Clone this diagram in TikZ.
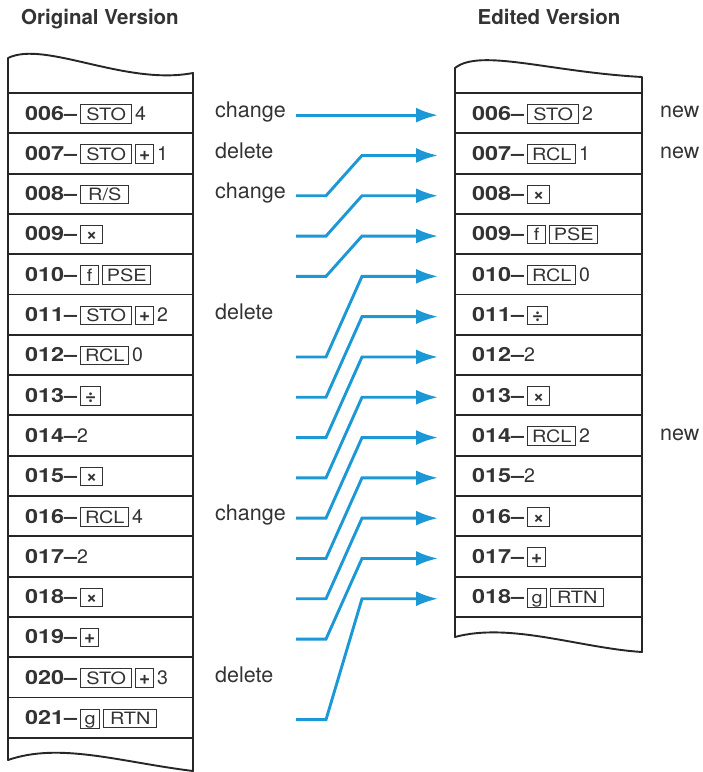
\documentclass[tikz,border=0pt]{standalone}
\usepackage{graphicx}
\usepackage{fontspec}
\setmainfont{TeX Gyre Heros}
\usetikzlibrary{arrows.meta,calc}
\definecolor{ink}{HTML}{333333}
\definecolor{frameink}{HTML}{262626}
\definecolor{flowblue}{RGB}{28,152,214}
\newcommand\rlab[1]{{\fontsize{19.5}{22}\selectfont\bfseries\scalebox{1.2}[1]{#1–}}}
\newcommand\rdig[1]{{\fontsize{19.5}{22}\selectfont #1}}
\newcommand\kbox[2]{{\setlength\fboxsep{0pt}\setlength\fboxrule{1pt}\fbox{\makebox[#1pt]{\rule[-2.5pt]{0pt}{17.5pt}\fontsize{17}{18}\selectfont\scalebox{1.17}[1]{#2}}}}}
\newcommand\kboxs[2]{{\setlength\fboxsep{0pt}\setlength\fboxrule{1pt}\fbox{\makebox[#1pt]{\rule[-2.5pt]{0pt}{17.5pt}\fontsize{19}{18}\selectfont\bfseries #2}}}}
\newcommand\kg{\hspace{3pt}}
\begin{document}
\begin{tikzpicture}[x=1pt,y=-1pt,
  rowtxt/.style={anchor=base west, inner sep=0pt, text=ink},
  note/.style={anchor=mid west, inner sep=0pt, text=ink, font=\fontsize{21.5}{24}\selectfont},
  hdr/.style={anchor=base, inner sep=0pt, text=ink, font=\fontsize{20.5}{24}\selectfont\bfseries},
  frame/.style={draw=frameink, line width=1.9pt, line join=round},
  sep/.style={draw=frameink, line width=1.9pt},
  flow/.style={draw=flowblue, line width=2.9pt, -{Latex[length=22pt,width=15pt]}}]
\fill[white] (0,0) rectangle (703,772);
\useasboundingbox (0,0) rectangle (703,772);
% headers
\node[hdr] (hdrL) at (100,24) {Original Version};
\node[hdr] (hdrR) at (549,24) {Edited Version};
% left listing frame
\draw[frame] (8,58) .. controls (45,40) and (125,86) .. (193,73) -- (193,771)
  .. controls (120,762) and (60,742) .. (8,760) -- cycle;
\foreach \k in {0,...,16} \draw[sep] (8,{93+40.3*\k}) -- (193,{93+40.3*\k});
% right listing frame
\draw[frame] (455,68) .. controls (480,48) and (550,72) .. (642,77) -- (642,652)
  .. controls (580,648) and (510,622) .. (455,637) -- cycle;
\foreach \k in {0,...,13} \draw[sep] (455,{93+40.3*\k}) -- (642,{93+40.3*\k});
% left rows
\node[rowtxt] (L0) at (25,120.0) {\rlab{006}\kg\kbox{50}{STO}\kg\rdig{4}};
\node[rowtxt] (L1) at (25,160.3) {\rlab{007}\kg\kbox{50}{STO}\kg\kboxs{17}{+}\kg\rdig{1}};
\node[rowtxt] (L2) at (25,200.6) {\rlab{008}\kg\kbox{47}{R/S}};
\node[rowtxt] (L3) at (25,240.9) {\rlab{009}\kg\kboxs{21}{×}};
\node[rowtxt] (L4) at (25,281.2) {\rlab{010}\kg\kbox{17}{f}\kg\kbox{47}{PSE}};
\node[rowtxt] (L5) at (25,321.5) {\rlab{011}\kg\kbox{50}{STO}\kg\kboxs{17}{+}\kg\rdig{2}};
\node[rowtxt] (L6) at (25,361.8) {\rlab{012}\kg\kbox{47}{RCL}\kg\rdig{0}};
\node[rowtxt] (L7) at (25,402.1) {\rlab{013}\kg\kboxs{19}{÷}};
\node[rowtxt] (L8) at (25,442.4) {\rlab{014}\rdig{2}};
\node[rowtxt] (L9) at (25,482.7) {\rlab{015}\kg\kboxs{21}{×}};
\node[rowtxt] (L10) at (25,523.0) {\rlab{016}\kg\kbox{47}{RCL}\kg\rdig{4}};
\node[rowtxt] (L11) at (25,563.3) {\rlab{017}\rdig{2}};
\node[rowtxt] (L12) at (25,603.6) {\rlab{018}\kg\kboxs{21}{×}};
\node[rowtxt] (L13) at (25,643.9) {\rlab{019}\kg\kboxs{17}{+}};
\node[rowtxt] (L14) at (25,684.2) {\rlab{020}\kg\kbox{50}{STO}\kg\kboxs{17}{+}\kg\rdig{3}};
\node[rowtxt] (L15) at (25,724.5) {\rlab{021}\kg\kbox{18}{g}\kg\kbox{52}{RTN}};
% right rows
\node[rowtxt] (R0) at (472,120.0) {\rlab{006}\kg\kbox{50}{STO}\kg\rdig{2}};
\node[rowtxt] (R1) at (472,160.3) {\rlab{007}\kg\kbox{47}{RCL}\kg\rdig{1}};
\node[rowtxt] (R2) at (472,200.6) {\rlab{008}\kg\kboxs{21}{×}};
\node[rowtxt] (R3) at (472,240.9) {\rlab{009}\kg\kbox{17}{f}\kg\kbox{47}{PSE}};
\node[rowtxt] (R4) at (472,281.2) {\rlab{010}\kg\kbox{47}{RCL}\kg\rdig{0}};
\node[rowtxt] (R5) at (472,321.5) {\rlab{011}\kg\kboxs{19}{÷}};
\node[rowtxt] (R6) at (472,361.8) {\rlab{012}\rdig{2}};
\node[rowtxt] (R7) at (472,402.1) {\rlab{013}\kg\kboxs{21}{×}};
\node[rowtxt] (R8) at (472,442.4) {\rlab{014}\kg\kbox{47}{RCL}\kg\rdig{2}};
\node[rowtxt] (R9) at (472,482.7) {\rlab{015}\rdig{2}};
\node[rowtxt] (R10) at (472,523.0) {\rlab{016}\kg\kboxs{21}{×}};
\node[rowtxt] (R11) at (472,563.3) {\rlab{017}\kg\kboxs{17}{+}};
\node[rowtxt] (R12) at (472,603.6) {\rlab{018}\kg\kbox{18}{g}\kg\kbox{52}{RTN}};
% notes
\node[note] (chg1) at (215,115) {change};
\node[note] (del1) at (215,155.5) {delete};
\node[note] (chg2) at (215,195.8) {change};
\node[note] (del2) at (215,316.7) {delete};
\node[note] (chg3) at (215,518.2) {change};
\node[note] (del3) at (215,679.4) {delete};
\node[note] (new1) at (660,115) {new};
\node[note] (new2) at (660,155.5) {new};
\node[note] (new3) at (660,437.6) {new};
% arrow end points
\foreach \k in {0,...,15} \coordinate (s\k) at (296,{93+40.3*(\k+0.5)+2});
\foreach \k in {0,...,12} \coordinate (t\k) at (438,{93+40.3*(\k+0.5)+2});
\draw[flow] (s0) -- (t0);
\foreach \a/\b in {2/1,3/2,4/3,6/4,7/5,8/6,9/7,10/8,11/9,12/10,13/11,15/12}
  \draw[flow] (s\a) -- ++(30,0) -- ($(t\b)+(-76,0)$) -- (t\b);
\end{tikzpicture}
\end{document}
